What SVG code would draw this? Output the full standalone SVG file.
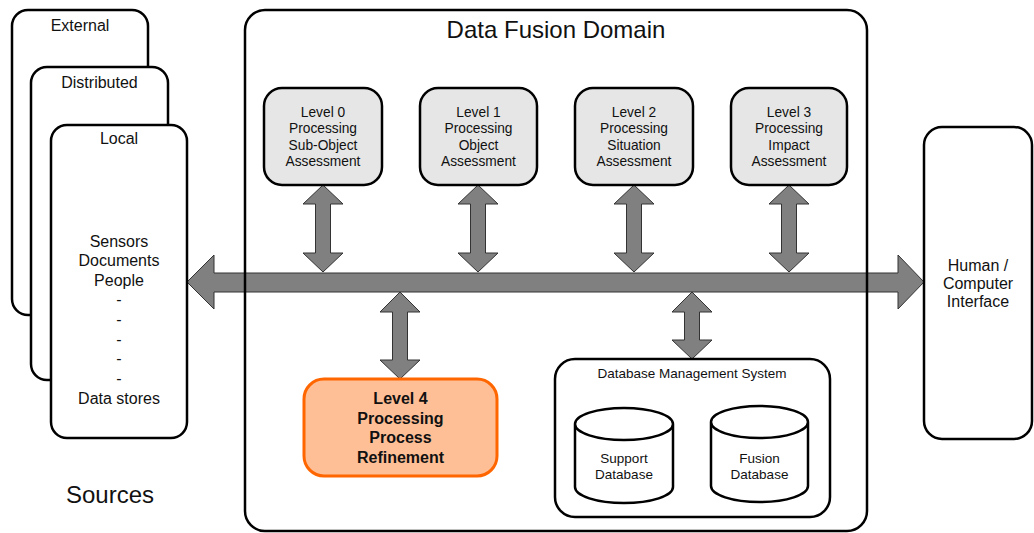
<svg xmlns="http://www.w3.org/2000/svg" width="1034" height="533" viewBox="0 0 1034 533">
<style>
text{font-family:"Liberation Sans",Arial,sans-serif;fill:#111;text-anchor:middle}
.box{fill:#fff;stroke:#000;stroke-width:2.5}
.lvl{fill:#e6e6e6;stroke:#000;stroke-width:2.5}
.arr{fill:#808080;stroke:#333;stroke-width:1;stroke-linejoin:miter}
.t16{font-size:16px}
.t13{font-size:13.5px}
.t14{font-size:13.75px}
.big{font-size:24px}
.bold{font-size:16px;font-weight:bold}
</style>
<rect width="1034" height="533" fill="#fff"/>

<g id="connectors">
<polygon class="arr" points="187,282 214,255 214,273 898,273 898,255 924,282 898,309 898,292 214,292 214,309"/>
<polygon class="arr" points="323,185 343,204 330.5,204 330.5,253 343,253 323,272 303,253 315.5,253 315.5,204 303,204"/>
<polygon class="arr" points="478,185 498,204 485.5,204 485.5,253 498,253 478,272 458,253 470.5,253 470.5,204 458,204"/>
<polygon class="arr" points="634,185 654,204 641.5,204 641.5,253 654,253 634,272 614,253 626.5,253 626.5,204 614,204"/>
<polygon class="arr" points="789,185 809,204 796.5,204 796.5,253 809,253 789,272 769,253 781.5,253 781.5,204 769,204"/>
<polygon class="arr" points="400,292 420,312 407.5,312 407.5,360 420,360 400,379 380,360 392.5,360 392.5,312 380,312"/>
<polygon class="arr" points="692,292 712,312 699.5,312 699.5,340 712,340 692,359 672,340 684.5,340 684.5,312 672,312"/>
</g>

<g id="sources">
<g id="external">
<rect class="box" x="12" y="10" width="136" height="305" rx="16"/>
<text class="t16" x="80" y="30.5">External</text>
</g>
<g id="distributed">
<rect class="box" x="31" y="67" width="137" height="313" rx="16"/>
<text class="t16" x="99.5" y="88">Distributed</text>
</g>
<g id="local">
<rect class="box" x="51" y="125" width="136" height="313" rx="16"/>
<text class="t16" x="119" y="144">Local</text>
<text class="t16" x="119" y="246.5">Sensors</text>
<text class="t16" x="119" y="266">Documents</text>
<text class="t16" x="119" y="285.5">People</text>
<text class="t16" x="119" y="305">-</text>
<text class="t16" x="119" y="325">-</text>
<text class="t16" x="119" y="344.5">-</text>
<text class="t16" x="119" y="364">-</text>
<text class="t16" x="119" y="384">-</text>
<text class="t16" x="119" y="403.5">Data stores</text>
</g>
<text class="big" x="110" y="503">Sources</text>
</g>

<g id="domain">
<rect x="245" y="10" width="622" height="521" rx="20" fill="none" stroke="#000" stroke-width="2.5"/>
<text class="big" x="556" y="38">Data Fusion Domain</text>
</g>

<g id="level0">
<rect class="lvl" x="264" y="88" width="118" height="97" rx="18"/>
<text class="t14" x="323" y="116.5">Level 0</text>
<text class="t14" x="323" y="133">Processing</text>
<text class="t14" x="323" y="149.5">Sub-Object</text>
<text class="t14" x="323" y="166">Assessment</text>
</g>
<g id="level1">
<rect class="lvl" x="420" y="88" width="117" height="97" rx="18"/>
<text class="t14" x="478.5" y="116.5">Level 1</text>
<text class="t14" x="478.5" y="133">Processing</text>
<text class="t14" x="478.5" y="149.5">Object</text>
<text class="t14" x="478.5" y="166">Assessment</text>
</g>
<g id="level2">
<rect class="lvl" x="575" y="88" width="118" height="97" rx="18"/>
<text class="t14" x="634" y="116.5">Level 2</text>
<text class="t14" x="634" y="133">Processing</text>
<text class="t14" x="634" y="149.5">Situation</text>
<text class="t14" x="634" y="166">Assessment</text>
</g>
<g id="level3">
<rect class="lvl" x="731" y="88" width="116" height="97" rx="18"/>
<text class="t14" x="789" y="116.5">Level 3</text>
<text class="t14" x="789" y="133">Processing</text>
<text class="t14" x="789" y="149.5">Impact</text>
<text class="t14" x="789" y="166">Assessment</text>
</g>

<g id="level4">
<rect x="304" y="379" width="193" height="97" rx="20" fill="#ffbf96" stroke="#ff6600" stroke-width="3"/>
<text class="bold" x="400.5" y="404">Level 4</text>
<text class="bold" x="400.5" y="424">Processing</text>
<text class="bold" x="400.5" y="443">Process</text>
<text class="bold" x="400.5" y="463">Refinement</text>
</g>

<g id="dbms">
<rect class="box" x="555" y="359" width="275" height="158" rx="20"/>
<text class="t13" x="692" y="378">Database Management System</text>
<g id="support-db">
<path class="box" d="M575,424 v63 a49,16 0 0,0 98,0 v-63 a49,16 0 0,0 -98,0 a49,16 0 0,0 98,0"/>
<text class="t13" x="624" y="463">Support</text>
<text class="t13" x="624" y="479">Database</text>
</g>
<g id="fusion-db">
<path class="box" d="M711,422 v64 a48.5,16 0 0,0 97,0 v-64 a48.5,16 0 0,0 -97,0 a48.5,16 0 0,0 97,0"/>
<text class="t13" x="759.5" y="463">Fusion</text>
<text class="t13" x="759.5" y="479">Database</text>
</g>
</g>

<g id="hci">
<rect class="box" x="924" y="127" width="108" height="312" rx="18"/>
<text class="t16" x="978" y="270.5">Human /</text>
<text class="t16" x="978" y="288.5">Computer</text>
<text class="t16" x="978" y="306.5">Interface</text>
</g>
</svg>
